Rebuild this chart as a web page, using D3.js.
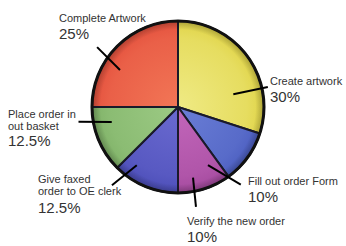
<!DOCTYPE html>
<html><head><meta charset="utf-8">
<script src="https://cdn.jsdelivr.net/npm/d3@7"></script>
<style>html,body{margin:0;padding:0;background:#fff;}svg{display:block;}</style>
</head><body><svg id="c" width="346" height="246"></svg>
<script>
// ---- data ----
const categories = ["Create artwork", "Fill out order Form", "Verify the new order", "Give faxed order to OE clerk", "Place order in out basket", "Complete Artwork"];
const values = [30, 10, 10, 12.5, 12.5, 25];
const percentLabels = ["30%", "10%", "10%", "12.5%", "12.5%", "25%"];
const labelLines = [["Create artwork"], ["Fill out order Form"], ["Verify the new order"], ["Give faxed", "order to OE clerk"], ["Place order in", "out basket"], ["Complete Artwork"]];

// ---- styling / layout ----
const colorsLight = ["#efea84", "#6a7ed6", "#c266ba", "#6a6ad0", "#9cca84", "#f27656"];
const colorsDark = ["#e0d448", "#4c5ec0", "#a44a9e", "#4c4eb8", "#80b268", "#e4523e"];
const W = 346, H = 246, cx = 178, cy = 107, R = 86;
// leader lines: [angleDeg, radiusFraction] start and end
const leaders = [[[77, 0.66], [77.5, 1.07]], [[152.7, 0.76], [141, 1.16]], [[168, 0.84], [169.8, 1.18]], [[215.3, 0.83], [220.2, 1.19]], [[257.2, 0.79], [261.5, 1.17]], [[302.5, 0.8], [306.5, 1.17]]];
// label anchor: x, first baseline, percent baseline
const labelPos = [[270, 85, 102], [248, 185, 202], [187, 225, 242], [38, 183, 213], [8, 118, 146], [59, 22, 39]];

const svg = d3.select("#c");
const defs = svg.append("defs");
categories.forEach((c, i) => {
  const g = defs.append("radialGradient").attr("id", "g" + i)
    .attr("gradientUnits", "userSpaceOnUse").attr("cx", 0).attr("cy", 0).attr("r", R)
    .attr("fx", 0).attr("fy", 0);
  g.append("stop").attr("offset", "0%").attr("stop-color", colorsLight[i]);
  g.append("stop").attr("offset", "80%").attr("stop-color", d3.interpolateRgb(colorsLight[i], colorsDark[i])(0.6));
  g.append("stop").attr("offset", "100%").attr("stop-color", colorsDark[i]);
});
const shadow = defs.append("radialGradient").attr("id", "rim")
  .attr("gradientUnits", "userSpaceOnUse").attr("cx", 0).attr("cy", 0).attr("r", R);
shadow.append("stop").attr("offset", "90%").attr("stop-color", "#000").attr("stop-opacity", 0);
shadow.append("stop").attr("offset", "100%").attr("stop-color", "#000").attr("stop-opacity", 0.25);

const pie = d3.pie().sort(null).value(d => d)(values);
const arc = d3.arc().innerRadius(0).outerRadius(R);
const pg = svg.append("g").attr("transform", `translate(${cx},${cy})`);
pg.selectAll("path.s").data(pie).join("path").attr("class", "s")
  .attr("d", arc)
  .attr("fill", (d, i) => `url(#g${i})`)
  .attr("stroke", "#1a1a2a").attr("stroke-width", 2).attr("stroke-linejoin", "round");
pg.append("circle").attr("r", R).attr("fill", "url(#rim)");
pg.append("circle").attr("r", R).attr("fill", "none").attr("stroke", "#111").attr("stroke-width", 3);

// leader lines
const rad = d => d * Math.PI / 180;
svg.append("g").attr("transform", `translate(${cx},${cy})`)
  .selectAll("line").data(leaders).join("line")
  .each(function (l) {
    const a = d3.pointRadial(rad(l[0][0]), l[0][1] * R);
    const b = d3.pointRadial(rad(l[1][0]), l[1][1] * R);
    d3.select(this).attr("x1", a[0]).attr("y1", a[1]).attr("x2", b[0]).attr("y2", b[1]);
  })
  .attr("stroke", "#000").attr("stroke-width", 2);

// labels
const lg = svg.append("g").attr("font-family", "'Liberation Sans', Arial, sans-serif").attr("fill", "#333");
categories.forEach((c, i) => {
  const [x, y0, yp] = labelPos[i];
  labelLines[i].forEach((t, k) => {
    lg.append("text").attr("x", x).attr("y", y0 + k * 12).attr("font-size", 11).text(t);
  });
  lg.append("text").attr("x", x).attr("y", yp).attr("font-size", 15).text(percentLabels[i]);
});
</script></body></html>
